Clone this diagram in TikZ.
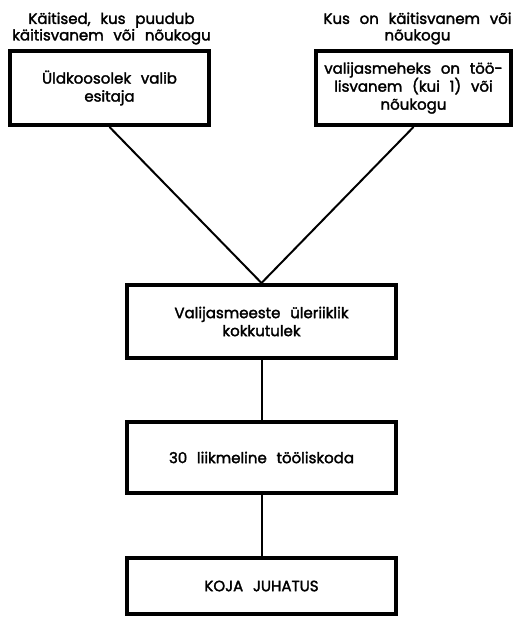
\documentclass[tikz,border=0pt]{standalone}
\usepackage{fontspec}
\setmainfont{Poppins}[FakeBold=2]
\usepackage{tikz}
\usetikzlibrary{positioning}
\newcommand{\widespace}{\spaceskip=0.65em plus 0.2em\relax}

\begin{document}
\begin{tikzpicture}[x=1pt, y=1pt,
        node distance=60pt and 0pt,
        box/.style={rectangle, draw=black, line width=4pt, minimum width=195pt, minimum height=74pt, align=center, font=\fontsize{15}{18}\selectfont\widespace},
        widebox/.style={box, minimum width=269pt, minimum height=71pt},
        head/.style={align=center, font=\fontsize{15}{16.5}\selectfont\widespace},
        line/.style={line width=2pt}
        ]
        \useasboundingbox (0,0) rectangle (517,-620);

        \node[box, minimum width=199pt] (uld) at (109.5,-88) {Üldkoosolek valib\\esitaja};
        \node[box] (vanem) at (413.5,-88) {valijasmeheks on töö-\\lisvanem (kui 1) või\\nõukogu};
        \node[head, above=1pt of uld, xshift=2pt] (uldhead) {Käitised, kus puudub\\käitisvanem või nõukogu};
        \node[head, above=1pt of vanem, xshift=4pt] (vanemhead) {Kus on käitisvanem või\\nõukogu};

        \node[widebox, minimum height=73pt] (kokku) at (261.5,-321.5) {Valijasmeeste üleriiklik\\kokkutulek};
        \node[widebox, below=of kokku] (koda) {30 liikmeline tööliskoda};
        \node[widebox, below=61pt of koda, minimum height=56pt] (juhatus) {KOJA JUHATUS};

        \draw[line] (uld.south) -- (kokku.north);
        \draw[line] (vanem.south) -- (kokku.north);
        \draw[line] (kokku) -- (koda);
        \draw[line] (koda) -- (juhatus);
    \end{tikzpicture}
\end{document}
